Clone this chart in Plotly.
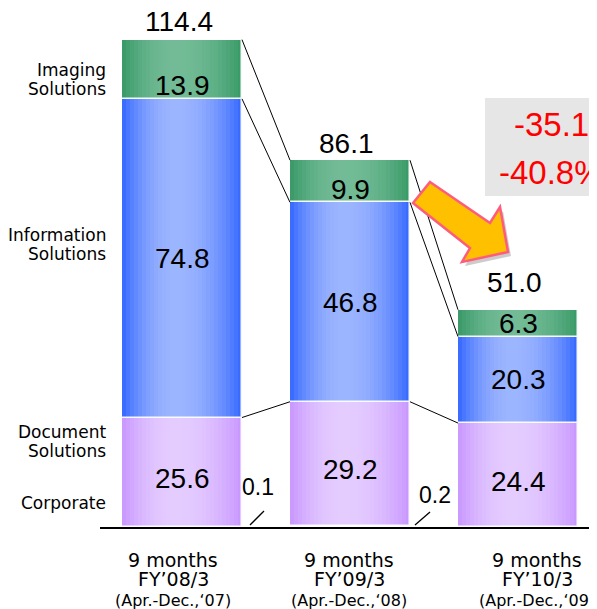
import plotly.graph_objects as go

# data
periods = ["9 months", "9 months", "9 months"]
fiscal_years = ["FY’08/3", "FY’09/3", "FY’10/3"]
month_ranges = ["(Apr.-Dec.,‘07)", "(Apr.-Dec.,‘08)", "(Apr.-Dec.,‘09)"]

corporate = [0.1, 0.2, 0.0]
document = [25.6, 29.2, 24.4]
information = [74.8, 46.8, 20.3]
imaging = [13.9, 9.9, 6.3]
totals = [114.4, 86.1, 51.0]

change_value = "-35.1"
change_pct = "-40.8%"

# pixel geometry of the slide (screen pixels; the page has an 8px body margin)
W, H = 597, 609
OFF = 8
L = 100                    # left edge of the axis line on screen
X0, DX = 182, 168          # centre of first bar, spacing between bars
Y0, DY = 527, 4.26         # baseline, pixels per unit
BW = 120 / DX              # bar width in axis units
HW = BW / 2
PLOT_W = W + OFF - L
PLOT_H = Y0 - OFF


def X(px):
    return (px - X0) / DX


def Y(py):
    return (Y0 - py) / DY


def PX(px):
    return (px - L) / PLOT_W


def PY(py):
    return (Y0 - py) / PLOT_H


n = len(totals)
xs = list(range(n))
base_doc = corporate
base_info = [a + b for a, b in zip(base_doc, document)]
base_img = [a + b for a, b in zip(base_info, information)]
tops = [a + b for a, b in zip(base_img, imaging)]

VAL_FONT = dict(family="Liberation Sans, Arial", size=28, color="black")
LBL_FONT = dict(family="DejaVu Sans", size=17, color="black")

segments = [
    (document, base_doc, (0xC8, 0x96, 0xFF), (0xE4, 0xCC, 0xFF)),
    (information, base_info, (0x33, 0x66, 0xFF), (0x9C, 0xB5, 0xFF)),
    (imaging, base_img, (0x38, 0x99, 0x66), (0x72, 0xBB, 0x96)),
]


def shade(edge, light, t, peak=0.45):
    d = (t - peak) / (peak if t < peak else 1 - peak)
    f = max(0.0, 1 - d * d)
    return "rgb(%d,%d,%d)" % tuple(round(e + (l - e) * f) for e, l in zip(edge, light))


fig = go.Figure()

# gradient bars made of thin vertical slices
K = 30
step = BW / K
for vals, base, edge, light in segments:
    for k in range(K):
        off = -HW + k * step
        w = min(step * 1.25, HW - off)
        fig.add_trace(go.Bar(x=xs, y=vals, base=base, offset=off, width=w,
                             marker=dict(color=shade(edge, light, (k + 0.5) / K), line=dict(width=0)),
                             hoverinfo="skip", showlegend=False))
    # white outline of the segment
    fig.add_trace(go.Bar(x=xs, y=vals, base=base, width=BW,
                         marker=dict(color="rgba(0,0,0,0)", line=dict(color="rgba(255,255,255,0.95)", width=1.5)),
                         hoverinfo="skip", showlegend=False))

# connector lines between the bars
for level in [base_info, base_img, tops]:
    lx, ly = [], []
    for i in range(n - 1):
        lx += [i + HW, i + 1 - HW, None]
        ly += [level[i], level[i + 1], None]
    fig.add_trace(go.Scatter(x=lx, y=ly, mode="lines", line=dict(color="black", width=1),
                             hoverinfo="skip", showlegend=False))

annotations = []

# values inside the segments
for i in xs:
    annotations.append(dict(x=i, y=base_doc[i] + document[i] / 2, yshift=-6, text=f"{document[i]:.1f}"))
    annotations.append(dict(x=i, y=base_info[i] + information[i] / 2, text=f"{information[i]:.1f}"))
    annotations.append(dict(x=i, y=base_img[i], yshift=13, text=f"{imaging[i]:.1f}"))

# totals above the bars
total_shift = [18, 17, 27]
for i in xs:
    annotations.append(dict(x=i - 0.02, y=tops[i], yshift=total_shift[i], text=f"{totals[i]:.1f}"))

for a in annotations:
    a.update(xref="x", yref="y", showarrow=False, font=VAL_FONT, xanchor="center", yanchor="middle")

# corporate labels in the gaps
corp_pos = [(258, 487), (435, 495)]
corp_line = [((250, 525), (264, 511)), ((415, 525), (430, 512))]
shapes = []
for i, c in enumerate(corporate):
    if c <= 0:
        continue
    px, py = corp_pos[i]
    annotations.append(dict(x=X(px), y=Y(py), xref="x", yref="y", text=f"{c:.1f}", showarrow=False,
                            font=dict(family="Liberation Sans, Arial", size=23, color="black")))
    (ax0, ay0), (ax1, ay1) = corp_line[i]
    shapes.append(dict(type="line", xref="x", yref="y", x0=X(ax0), y0=Y(ay0), x1=X(ax1), y1=Y(ay1),
                       line=dict(color="black", width=1.3)))

# segment names on the left
seg_labels = [("Imaging\nSolutions", 70), ("Information\nSolutions", 235),
              ("Document\nSolutions", 432), ("Corporate", 503)]
for name, py in seg_labels:
    for j, line in enumerate(name.split("\n")):
        annotations.append(dict(x=PX(108), y=PY(py + 19 * j), xref="paper", yref="paper", text=line,
                                showarrow=False, xanchor="right", yanchor="middle", font=LBL_FONT))

# period labels under the axis
label_cx = [173, 349, 537]
for i in xs:
    for txt, py, size in [(periods[i], 560, 19), (fiscal_years[i], 579, 19), (month_ranges[i], 600, 16)]:
        annotations.append(dict(x=PX(label_cx[i]), y=PY(py), xref="paper", yref="paper", text=txt,
                                showarrow=False, xanchor="center", yanchor="middle",
                                font=dict(family="DejaVu Sans", size=size, color="black")))

# change box
shapes.append(dict(type="rect", xref="paper", yref="paper", x0=PX(485), x1=PX(610), y0=PY(196), y1=PY(98),
                   fillcolor="#E6E6E6", line=dict(width=0), layer="below"))
for txt, py in [(change_value, 124), (change_pct, 172)]:
    annotations.append(dict(x=PX(551), y=PY(py), xref="paper", yref="paper", text=txt, showarrow=False,
                            xanchor="center", yanchor="middle",
                            font=dict(family="Liberation Sans, Arial", size=33, color="#FF0000")))

# block arrow
arrow_px = [(430, 182), (490, 223), (500, 207), (508, 252), (462, 262), (470, 248), (413, 203)]


def path(points, dx=0, dy=0):
    return "M " + " L ".join(f"{X(a + dx):.4f},{Y(b + dy):.4f}" for a, b in points) + " Z"


shapes.append(dict(type="path", xref="x", yref="y", path=path(arrow_px, 3, 4),
                   fillcolor="rgba(110,110,110,0.35)", line=dict(width=0), layer="above"))
shapes.append(dict(type="path", xref="x", yref="y", path=path(arrow_px),
                   fillcolor="#FFC000", line=dict(color="#FF5C7C", width=2.5), layer="above"))

fig.update_layout(
    width=W, height=H,
    margin=dict(l=L - OFF, r=0, t=0, b=H - PLOT_H),
    barmode="overlay",
    bargap=0,
    plot_bgcolor="white",
    paper_bgcolor="white",
    showlegend=False,
    annotations=annotations,
    shapes=shapes,
    xaxis=dict(range=[X(L), X(W + OFF)], showgrid=False, zeroline=False, showticklabels=False,
               ticks="", showline=True, linecolor="black", linewidth=1.5, fixedrange=True),
    yaxis=dict(range=[0, PLOT_H / DY], showgrid=False, zeroline=False, showticklabels=False,
               ticks="", showline=False, fixedrange=True),
)

fig.write_html("out.html")
